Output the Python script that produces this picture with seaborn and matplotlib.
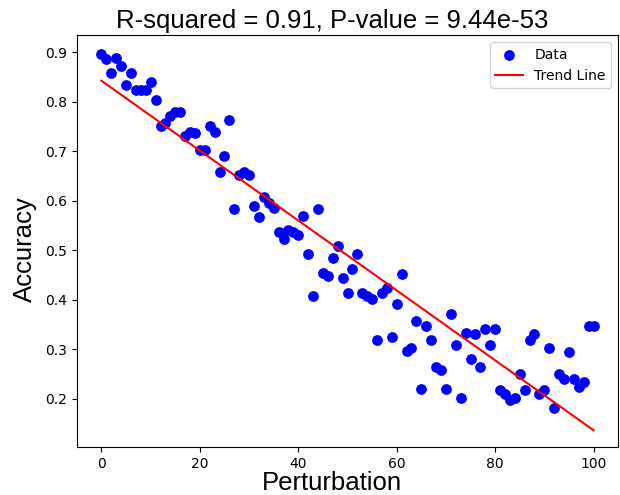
import numpy as np
import pandas as pd
import matplotlib
matplotlib.use('Agg')
import matplotlib.pyplot as plt
import seaborn as sns

# accuracy, one value per perturbation step 0..100
accuracy = [
    0.896, 0.886, 0.859, 0.888, 0.872, 0.835, 0.859, 0.825, 0.825, 0.825,
    0.840, 0.804, 0.752, 0.758, 0.772, 0.780, 0.780, 0.730, 0.740, 0.737,
    0.703, 0.703, 0.751, 0.740, 0.658, 0.690, 0.764, 0.584, 0.652, 0.658,
    0.652, 0.590, 0.568, 0.607, 0.595, 0.585, 0.536, 0.523, 0.540, 0.536,
    0.530, 0.570, 0.493, 0.408, 0.584, 0.454, 0.448, 0.485, 0.509, 0.444,
    0.414, 0.462, 0.493, 0.414, 0.408, 0.401, 0.318, 0.414, 0.424, 0.324,
    0.391, 0.452, 0.296, 0.302, 0.357, 0.220, 0.347, 0.318, 0.263, 0.257,
    0.220, 0.371, 0.308, 0.202, 0.332, 0.279, 0.330, 0.263, 0.340, 0.309,
    0.340, 0.218, 0.210, 0.198, 0.202, 0.249, 0.218, 0.318, 0.330, 0.210,
    0.218, 0.302, 0.180, 0.249, 0.240, 0.294, 0.240, 0.224, 0.234, 0.347,
    0.347,
]
perturbation = np.arange(len(accuracy))
title_text = 'R-squared = 0.91, P-value = 9.44e-53'

df = pd.DataFrame({'Perturbation': perturbation, 'Accuracy': accuracy})

# linear trend
slope, intercept = np.polyfit(df['Perturbation'], df['Accuracy'], 1)
df['Trend'] = intercept + slope * df['Perturbation']

fig = plt.figure(figsize=(6.2, 4.95), dpi=100)
ax = fig.add_axes([0.124, 0.097, 0.873, 0.832])

sns.scatterplot(data=df, x='Perturbation', y='Accuracy', color='blue', s=60,
                linewidth=0, label='Data', ax=ax)
sns.lineplot(data=df, x='Perturbation', y='Trend', color='red', linewidth=1.5,
             label='Trend Line', ax=ax)

big = {'family': 'Liberation Sans', 'size': 18.5}
ax.set_title(title_text, fontdict=big, pad=5, x=0.472)
ax.set_xlabel('Perturbation', fontdict=big, labelpad=0)
ax.xaxis.label.set_x(0.472)
ax.set_ylabel('Accuracy', fontdict=big, labelpad=6)
ax.yaxis.label.set_y(0.48)
ax.set_xticks([0, 20, 40, 60, 80, 100])
ax.set_ylim(0.102, 0.935)
ax.legend(loc='upper right')

fig.savefig('out.png', dpi=100)
